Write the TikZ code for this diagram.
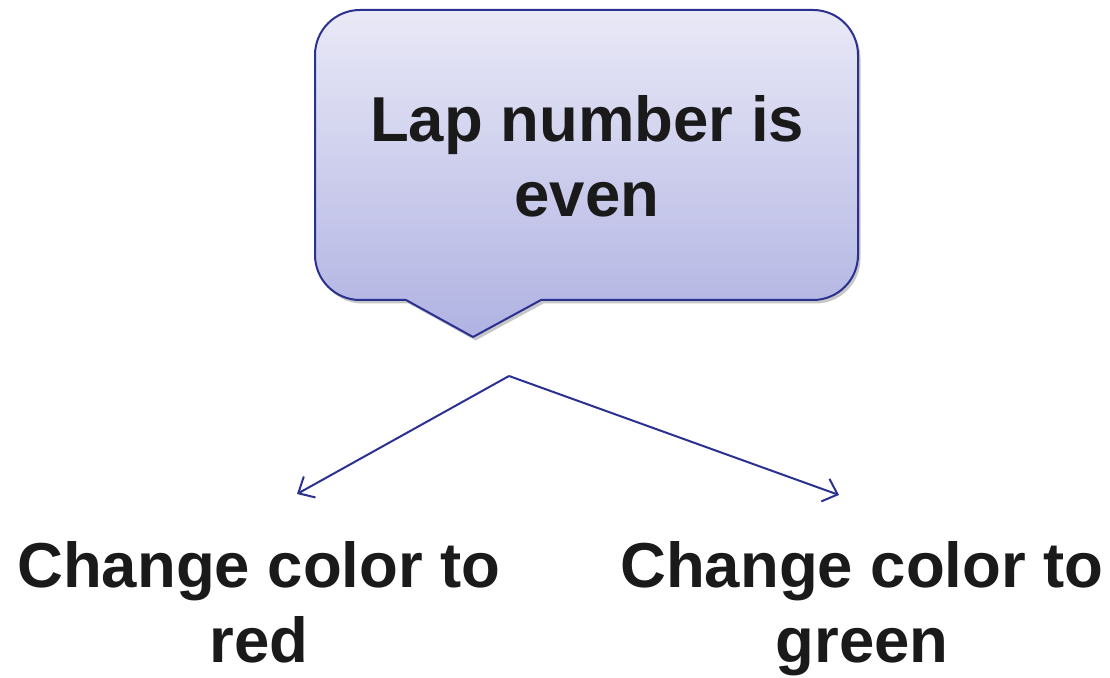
\documentclass[tikz,border=0pt]{standalone}
\usepackage{fontspec}
\setmainfont{Liberation Sans}
\usetikzlibrary{arrows.meta,shadows}

\definecolor{calloutTop}{RGB}{233,233,247}
\definecolor{calloutBottom}{RGB}{176,178,226}
\definecolor{edgeBlue}{RGB}{43,49,145}
\definecolor{inkDark}{RGB}{26,26,26}

\tikzset{
  bigtext/.style={inkDark, font=\fontsize{63.5}{75}\selectfont\bfseries,
    align=center, inner sep=0pt, anchor=north},
  callout/.style={draw=edgeBlue, line width=2pt, line join=round,
    top color=calloutTop, bottom color=calloutBottom,
    drop shadow={shadow xshift=2.5pt, shadow yshift=-3.5pt, opacity=0.22, fill=black}},
  branch/.style={draw=edgeBlue, line width=2pt,
    -{Straight Barb[length=13pt,width=24pt,line width=2pt]}},
}

\begin{document}
\begin{tikzpicture}[x=1pt,y=1pt]
  \useasboundingbox (0,0) rectangle (1110,677);

  % speech-bubble shaped decision box
  \path[callout]
    (406,377) -- (473,340) -- (541,377) -- (813,377)
    arc[start angle=-90,end angle=0,radius=45] -- (858,622)
    arc[start angle=0,end angle=90,radius=45] -- (360,667)
    arc[start angle=90,end angle=180,radius=45] -- (315,422)
    arc[start angle=180,end angle=270,radius=45] -- cycle;

  \node[bigtext] (cond) at (587,582) {Lap number is\\even};

  % outcomes
  \node[bigtext] (red) at (259,135.5) {Change color to\\red};
  \node[bigtext] (green) at (862,135.5) {Change color to\\green};

  % branching arrows
  \coordinate (fork) at (509,301);
  \coordinate (toRed) at (297,183);
  \coordinate (toGreen) at (839,182);
  \draw[branch] (fork) -- (toRed);
  \draw[branch] (fork) -- (toGreen);
\end{tikzpicture}
\end{document}
